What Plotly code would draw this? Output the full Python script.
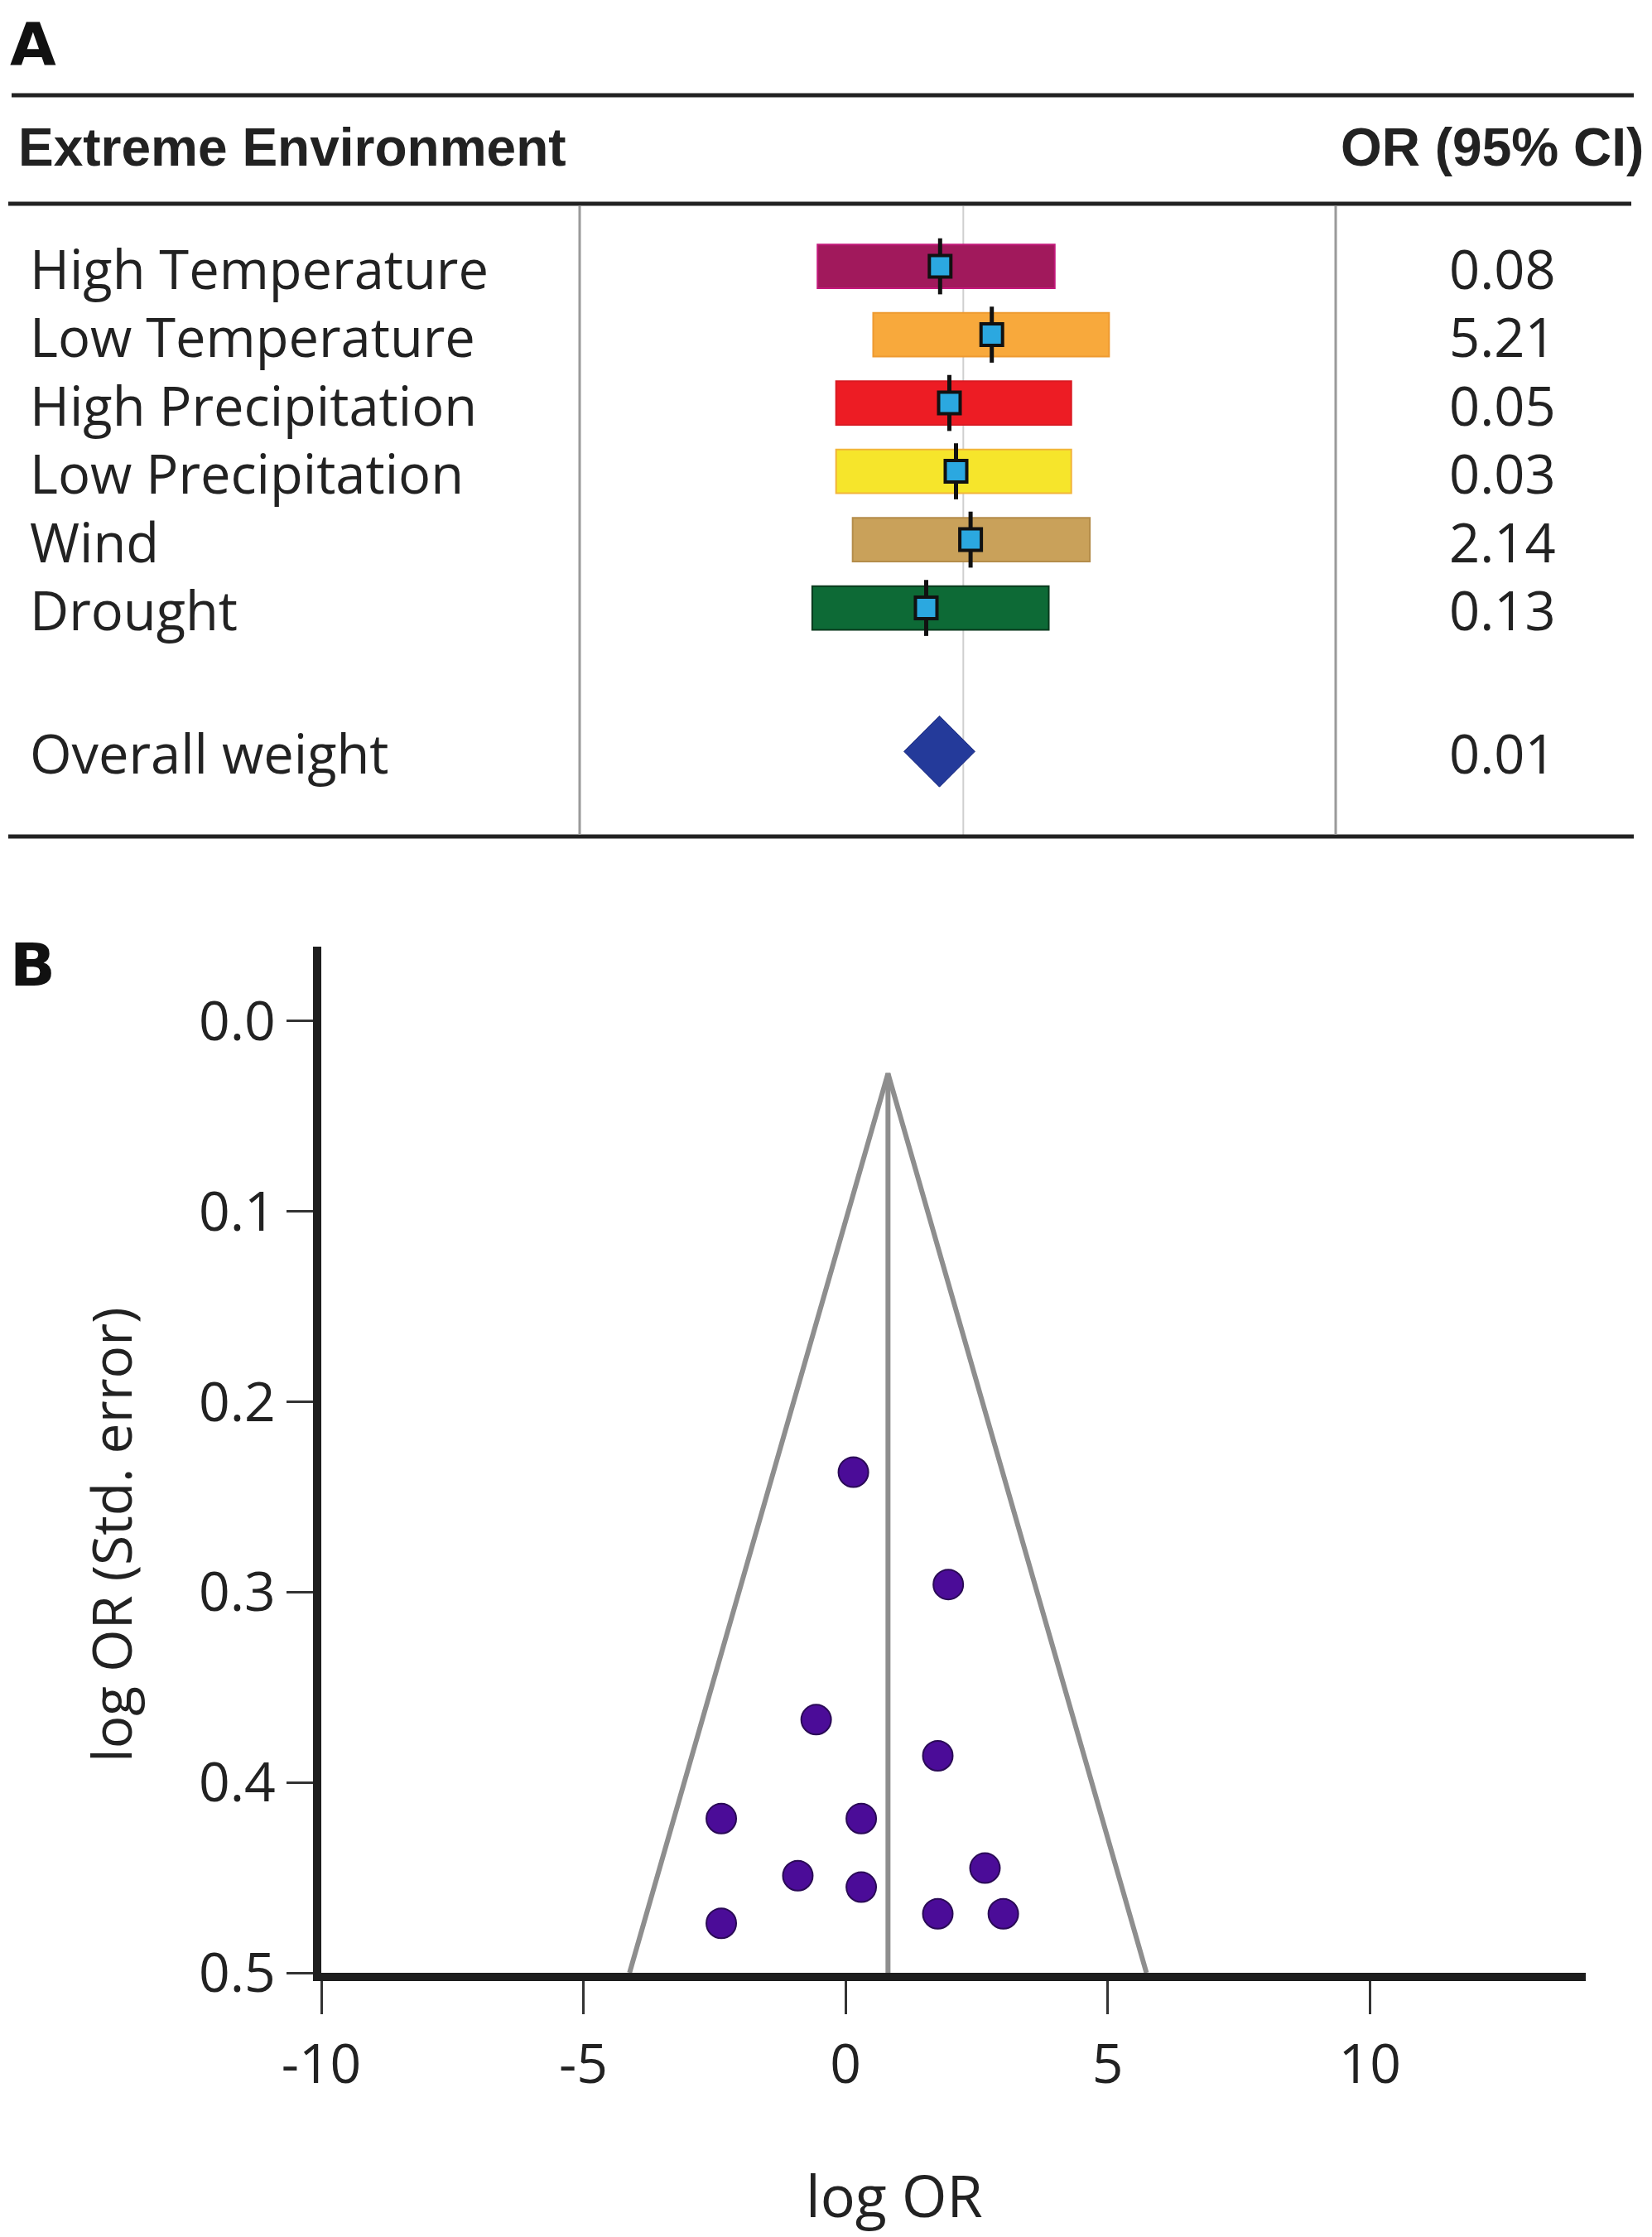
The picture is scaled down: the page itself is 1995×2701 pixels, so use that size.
import plotly.graph_objects as go

# ============================
# Panel A: forest plot data
# ============================
exposures = ["High Temperature", "Low Temperature", "High Precipitation",
             "Low Precipitation", "Wind", "Drought"]
or_labels = ["0.08", "5.21", "0.05", "0.03", "2.14", "0.13"]
ci_low = [-2.20, -1.36, -1.92, -1.92, -1.67, -2.28]
ci_high = [1.38, 2.20, 1.63, 1.63, 1.91, 1.29]
point_est = [-0.35, 0.43, -0.21, -0.11, 0.11, -0.56]
bar_fill = ["#A1195C", "#F8A93C", "#ED1C24", "#F6E52B", "#C9A15A", "#0D6A36"]
bar_edge = ["#C2187A", "#EE9A30", "#DA1A22", "#F2B43A", "#B48C4A", "#0A3A1E"]

overall_label = "Overall weight"
overall_or = "0.01"
overall_est = -0.36

# ============================
# Panel B: funnel plot data
# ============================
study_log_or = [0.15, 1.96, -0.56, 1.76, -2.37, 0.30, -0.91, 0.30, 2.66, 1.76, 3.01, -2.37]
study_se = [0.237, 0.296, 0.367, 0.386, 0.419, 0.419, 0.449, 0.455, 0.445, 0.469, 0.469, 0.474]
pooled_log_or = 0.81
funnel_apex_se = 0.0275
funnel_base_se = 0.5
funnel_half_width = 4.93

x_ticks = [-10, -5, 0, 5, 10]
x_ticktext = ["-10", "-5", "0", "5", "10"]
y_ticks = [0.0, 0.1, 0.2, 0.3, 0.4, 0.5]

W, H = 1995, 2701
OFF = 8  # page body margin
TEXT = "#222222"
LABEL_FONT = "Open Sans, Noto Sans, sans-serif"
HEAD_FONT = "Liberation Sans, Arial, sans-serif"


def px(xp):
    return (xp - OFF) / W


def py(yp):
    return 1 - (yp - OFF) / H


rows = list(range(len(exposures)))
overall_row = 7.1

fig = go.Figure()

# CI bars
fig.add_trace(go.Bar(
    y=rows,
    x=[hi - lo for lo, hi in zip(ci_low, ci_high)],
    base=ci_low,
    orientation="h",
    width=0.64,
    marker=dict(color=bar_fill, line=dict(color=bar_edge, width=2)),
    xaxis="x", yaxis="y",
    showlegend=False,
))

# point estimates with whiskers
fig.add_trace(go.Scatter(
    x=point_est, y=rows,
    mode="markers",
    marker=dict(symbol="square", size=26, color="#2BA8E0",
                line=dict(color="#111111", width=4)),
    error_y=dict(type="constant", value=0.41, thickness=5, width=0, color="#111111"),
    xaxis="x", yaxis="y",
    showlegend=False,
))

# overall diamond
fig.add_trace(go.Scatter(
    x=[overall_est], y=[overall_row],
    mode="markers",
    marker=dict(symbol="diamond", size=66, color="#243A9A",
                line=dict(color="#1B2B7E", width=1)),
    xaxis="x", yaxis="y",
    showlegend=False,
))

# funnel
fig.add_trace(go.Scatter(
    x=[pooled_log_or - funnel_half_width, pooled_log_or, pooled_log_or + funnel_half_width],
    y=[funnel_base_se, funnel_apex_se, funnel_base_se],
    mode="lines",
    line=dict(color="#8E8E8E", width=6),
    xaxis="x2", yaxis="y2",
    showlegend=False,
))
fig.add_trace(go.Scatter(
    x=[pooled_log_or, pooled_log_or],
    y=[funnel_apex_se, funnel_base_se],
    mode="lines",
    line=dict(color="#8E8E8E", width=6),
    xaxis="x2", yaxis="y2",
    showlegend=False,
))
fig.add_trace(go.Scatter(
    x=study_log_or, y=study_se,
    mode="markers",
    marker=dict(size=36, color="#4B0C98", line=dict(color="#2A0A56", width=2)),
    xaxis="x2", yaxis="y2",
    showlegend=False,
))

shapes = []
# table rules
for y0, xa, xb in [(115, 14, 1973), (246, 10, 1970), (1010, 10, 1973)]:
    shapes.append(dict(type="line", xref="paper", yref="paper",
                       x0=px(xa), x1=px(xb), y0=py(y0), y1=py(y0),
                       line=dict(color="#222222", width=5)))
# column separators
for xv in [700, 1613]:
    shapes.append(dict(type="line", xref="paper", yref="paper",
                       x0=px(xv), x1=px(xv), y0=py(249), y1=py(1008),
                       line=dict(color="#9A9A9A", width=3)))
# null line
shapes.append(dict(type="line", xref="x", yref="paper", x0=0, x1=0,
                   y0=py(249), y1=py(1008),
                   line=dict(color="#CFCFCF", width=2), layer="below"))

annotations = [
    dict(text="<b>A</b>", x=px(10), y=py(9), xref="paper", yref="paper",
         xanchor="left", yanchor="top", showarrow=False,
         font=dict(family="DejaVu Sans, sans-serif", size=72, color="#111111")),
    dict(text="<b>B</b>", x=px(10), y=py(1165), xref="paper", yref="paper",
         xanchor="left", yanchor="middle", showarrow=False,
         font=dict(family="DejaVu Sans, sans-serif", size=72, color="#111111")),
    dict(text="<b>Extreme Environment</b>", x=px(20), y=py(178), xref="paper", yref="paper",
         xanchor="left", yanchor="middle", showarrow=False,
         font=dict(family=HEAD_FONT, size=64, color=TEXT)),
    dict(text="<b>OR (95% CI)</b>", x=px(1987), y=py(178), xref="paper", yref="paper",
         xanchor="right", yanchor="middle", showarrow=False,
         font=dict(family=HEAD_FONT, size=64, color=TEXT)),
    dict(text="log OR", x=px(1080), y=py(2650), xref="paper", yref="paper",
         xanchor="center", yanchor="middle", showarrow=False,
         font=dict(family=LABEL_FONT, size=70, color=TEXT)),
    dict(text="log OR (Std. error)", x=px(133), y=py(1853), xref="paper", yref="paper",
         xanchor="center", yanchor="middle", showarrow=False, textangle=-90,
         font=dict(family=LABEL_FONT, size=66, color=TEXT)),
]
for r, name, orv in zip(rows + [overall_row], exposures + [overall_label],
                        or_labels + [overall_or]):
    annotations.append(dict(text=name, x=px(34), y=r, xref="paper", yref="y",
                            xanchor="left", yanchor="middle", showarrow=False, yshift=-2,
                            font=dict(family=LABEL_FONT, size=65, color=TEXT)))
    annotations.append(dict(text=orv, x=px(1814), y=r, xref="paper", yref="y",
                            xanchor="center", yanchor="middle", showarrow=False, yshift=-2,
                            font=dict(family=LABEL_FONT, size=65, color=TEXT)))

fig.update_layout(
    width=W, height=H,
    margin=dict(l=0, r=0, t=0, b=0, autoexpand=False),
    paper_bgcolor="white", plot_bgcolor="white",
    shapes=shapes,
    annotations=annotations,
    xaxis=dict(domain=[px(700), px(1613)], range=[-5.79, 5.62], visible=False,
               anchor="y", fixedrange=True),
    yaxis=dict(domain=[py(1010), py(246)], range=[8.345, -0.916], visible=False,
               anchor="x", fixedrange=True),
    xaxis2=dict(domain=[px(388), px(1915)], range=[-10, 14.12], anchor="y2",
                showgrid=False, zeroline=False, showline=True, automargin=False,
                linecolor="#1E1E1E", linewidth=10,
                ticks="outside", ticklen=40, tickwidth=3, tickcolor="#333333",
                tickvals=x_ticks, ticktext=x_ticktext, ticklabelstandoff=4,
                tickfont=dict(family=LABEL_FONT, size=66, color=TEXT)),
    yaxis2=dict(domain=[py(2382), py(1143)], range=[0.5, -0.0391], anchor="x2",
                showgrid=False, zeroline=False, showline=True, automargin=False,
                linecolor="#1E1E1E", linewidth=10,
                ticks="outside", ticklen=32, tickwidth=3, tickcolor="#333333",
                tickvals=y_ticks, tickformat=".1f",
                ticklabelstandoff=0,
                tickfont=dict(family=LABEL_FONT, size=66, color=TEXT)),
)

fig.write_html("out.html")
